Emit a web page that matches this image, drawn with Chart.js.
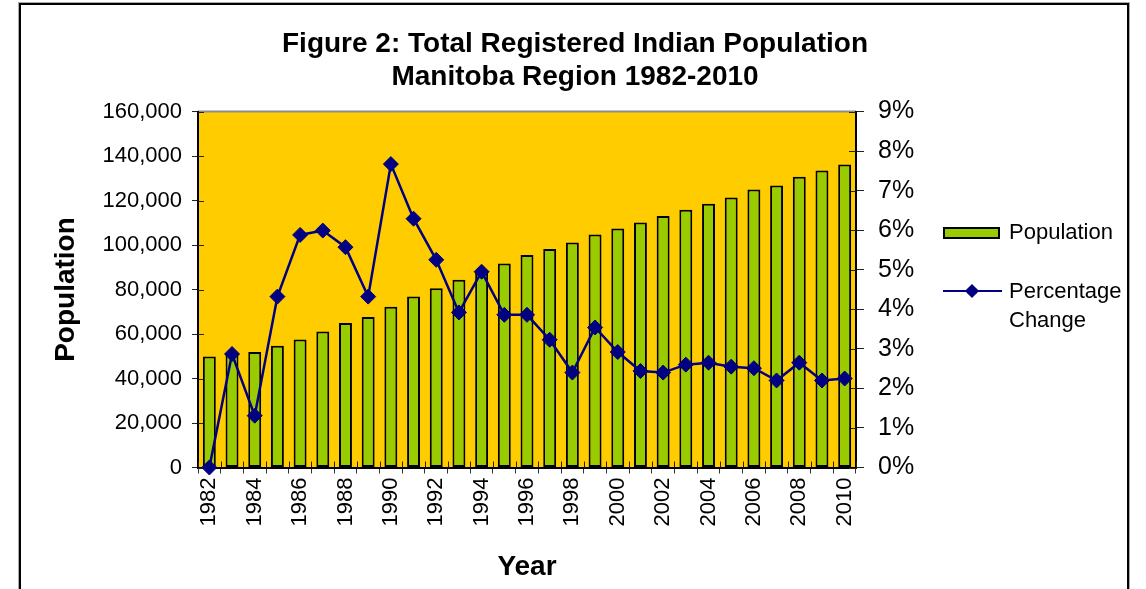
<!DOCTYPE html>
<html><head><meta charset="utf-8">
<script src="https://cdn.jsdelivr.net/npm/chart.js@4.4.1/dist/chart.umd.min.js"></script>
<style>
html,body{margin:0;padding:0;background:#fff;}
#wrap{position:relative;width:1146px;height:589px;overflow:hidden;font-family:"Liberation Sans",Arial,sans-serif;}
canvas{position:absolute;left:0;top:0;}
#frame{position:absolute;left:19px;top:3px;width:1106px;height:640px;border:2px solid #000;box-shadow:0 0 0 1px #aaa;pointer-events:none;}
#title{position:absolute;left:0;top:26px;width:1150px;text-align:center;font-weight:bold;font-size:28px;line-height:33px;color:#000;}
.leg{position:absolute;font-size:22px;color:#000;line-height:29px;white-space:nowrap;}
</style></head>
<body>
<div id="wrap">
<canvas id="c" width="1146" height="589"></canvas>
<div id="title">Figure 2: Total Registered Indian Population<br>Manitoba Region 1982-2010</div>
<div style="position:absolute;left:943px;top:227px;width:53px;height:8px;border:2px solid #000;background:#99CC00;"></div>
<div class="leg" style="left:1009px;top:217px;">Population</div>
<div style="position:absolute;left:943px;top:290px;width:59px;height:2px;background:#000080;"></div>
<div style="position:absolute;left:967px;top:286px;width:10px;height:10px;background:#000080;transform:rotate(45deg);"></div>
<div class="leg" style="left:1009px;top:276px;">Percentage<br>Change</div>
<div id="frame"></div>
</div>
<script>
const years = ['1982','1983','1984','1985','1986','1987','1988','1989','1990','1991','1992','1993','1994','1995','1996','1997','1998','1999','2000','2001','2002','2003','2004','2005','2006','2007','2008','2009','2010'];
const population = [49900, 51300, 51900, 54700, 57500, 61100, 64900, 67600, 72200, 76900, 80600, 84400, 88100, 91700, 95500, 98200, 101100, 104700, 107400, 110100, 113000, 115800, 118500, 121400, 124900, 126700, 130700, 133500, 136200];
const pctChange = [0, 2.87, 1.31, 4.32, 5.88, 5.99, 5.57, 4.32, 7.67, 6.29, 5.25, 3.92, 4.95, 3.86, 3.86, 3.23, 2.40, 3.54, 2.92, 2.44, 2.40, 2.60, 2.65, 2.55, 2.51, 2.20, 2.65, 2.20, 2.25];
const popTicks = [0, 20000, 40000, 60000, 80000, 100000, 120000, 140000, 160000];
const pctTicks = [0, 1, 2, 3, 4, 5, 6, 7, 8, 9];
const yearLabelsShown = ['1982','1984','1986','1988','1990','1992','1994','1996','1998','2000','2002','2004','2006','2008','2010'];

const FONT = '"Liberation Sans", Arial, sans-serif';

const bgPlugin = {
  id: 'plotBg',
  beforeDraw(chart) {
    const {ctx, chartArea: a} = chart;
    ctx.save();
    ctx.fillStyle = '#FFCC00';
    ctx.fillRect(a.left, a.top, a.right - a.left, a.bottom - a.top);
    ctx.strokeStyle = '#8c8c8c';
    ctx.lineWidth = 2;
    ctx.beginPath();
    ctx.moveTo(a.left, a.top);
    ctx.lineTo(a.right, a.top);
    ctx.stroke();
    ctx.restore();
  },
  beforeDatasetsDraw(chart) {
    const {ctx, chartArea: a, scales} = chart;
    ctx.save();
    ctx.strokeStyle = '#222';
    ctx.lineWidth = 1;
    ctx.beginPath();
    scales.y.ticks.forEach((t, i) => {
      const py = Math.round(scales.y.getPixelForTick(i)) + 0.5;
      ctx.moveTo(a.left, py); ctx.lineTo(a.left + 6, py);
    });
    scales.y1.ticks.forEach((t, i) => {
      const py = Math.round(scales.y1.getPixelForTick(i)) + 0.5;
      ctx.moveTo(a.right - 7, py); ctx.lineTo(a.right, py);
    });
    const xs = scales.x;
    const n = years.length;
    const step = xs.getPixelForValue(1) - xs.getPixelForValue(0);
    for (let i = 0; i <= n; i++) {
      let px = (i < n) ? xs.getPixelForValue(i) - step / 2 : xs.getPixelForValue(n - 1) + step / 2;
      px = Math.round(px) + 0.5;
      ctx.moveTo(px, a.bottom - 6); ctx.lineTo(px, a.bottom);
    }
    ctx.stroke();
    ctx.restore();
  }
};

new Chart(document.getElementById('c'), {
  data: {
    labels: years,
    datasets: [
      {
        type: 'line',
        label: 'Percentage Change',
        data: pctChange,
        yAxisID: 'y1',
        borderColor: '#000080',
        backgroundColor: '#000080',
        borderWidth: 2.5,
        tension: 0,
        pointStyle: 'rectRot',
        pointRadius: 7.5,
        pointBackgroundColor: '#000080',
        pointBorderColor: '#000080',
        pointBorderWidth: 1,
        clip: false,
        order: 0
      },
      {
        type: 'bar',
        label: 'Population',
        data: population,
        yAxisID: 'y',
        backgroundColor: '#99CC00',
        borderColor: '#000000',
        borderWidth: 2,
        borderSkipped: false,
        barPercentage: 0.57,
        categoryPercentage: 1.0,
        order: 1
      }
    ]
  },
  options: {
    responsive: false,
    animation: false,
    devicePixelRatio: 1,
    layout: {padding: {top: 111.5, left: 0, right: 0, bottom: 0}},
    plugins: {legend: {display: false}, title: {display: false}, tooltip: {enabled: false}},
    scales: {
      x: {
        type: 'category',
        afterFit(s) { s.height = 121.5; },
        grid: {display: true, offset: true, drawOnChartArea: false, drawTicks: true, tickLength: 6, color: '#333', lineWidth: 1},
        border: {display: true, color: '#000', width: 2},
        ticks: {
          autoSkip: false, maxRotation: 90, minRotation: 90, padding: 4,
          color: '#000', font: {family: FONT, size: 22},
          callback(v, i) { const l = years[i]; return yearLabelsShown.includes(l) ? l : ''; }
        },
        title: {display: true, text: 'Year', color: '#000', font: {family: FONT, size: 28, weight: 'bold'}, padding: {top: 0, bottom: 5}}
      },
      y: {
        position: 'left',
        min: 0, max: 160000,
        afterFit(s) { s.width = 198; },
        afterBuildTicks(s) { s.ticks = popTicks.map(v => ({value: v})); },
        grid: {display: true, drawOnChartArea: false, drawTicks: true, tickLength: 6, color: '#222', lineWidth: 1},
        border: {display: true, color: '#000', width: 2},
        ticks: {
          padding: 10, color: '#000', font: {family: FONT, size: 22},
          callback(v) { return v.toLocaleString('en-US'); }
        },
        title: {display: true, text: 'Population', color: '#000', font: {family: FONT, size: 28, weight: 'bold'}, padding: {top: 49, bottom: 0}}
      },
      y1: {
        position: 'right',
        min: 0, max: 9,
        afterFit(s) { s.width = 290; },
        afterBuildTicks(s) { s.ticks = pctTicks.map(v => ({value: v})); },
        grid: {display: true, drawOnChartArea: false, drawTicks: true, tickLength: 8, color: '#222', lineWidth: 1},
        border: {display: true, color: '#000', width: 2},
        ticks: {
          padding: 14, color: '#000', font: {family: FONT, size: 25},
          callback(v) { return v + '%'; }
        }
      }
    }
  },
  plugins: [bgPlugin]
});
</script>
</body></html>
